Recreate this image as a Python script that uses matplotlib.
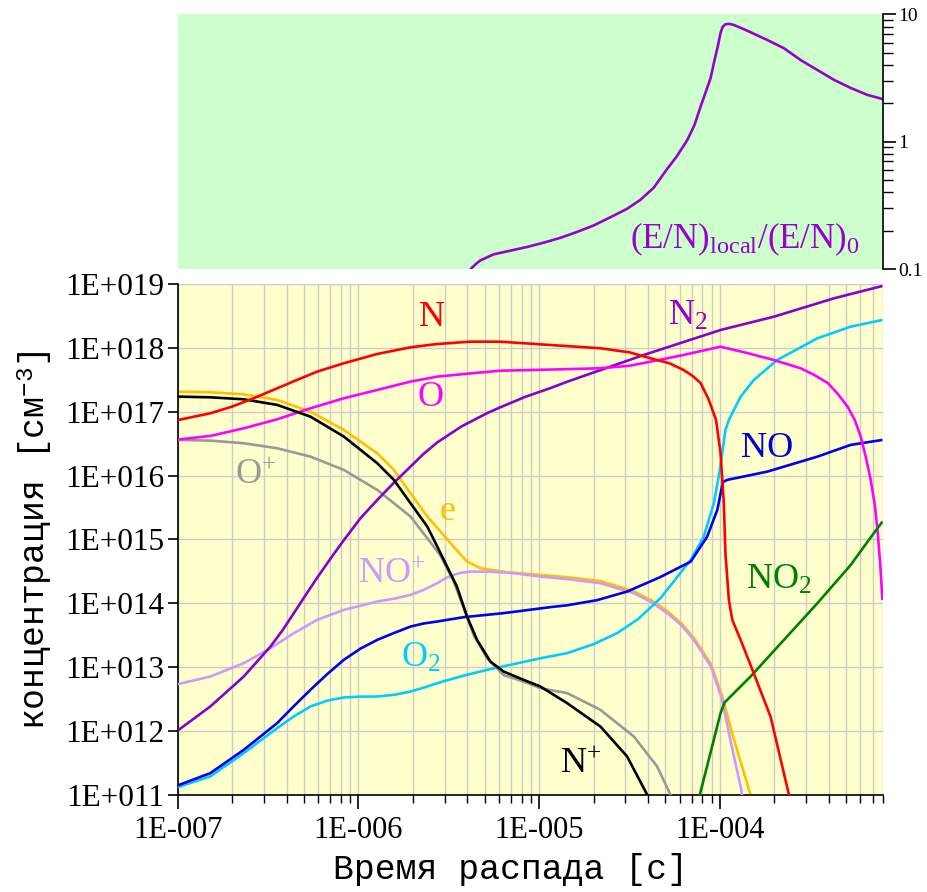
import numpy as np
import matplotlib
matplotlib.use('Agg')
import matplotlib.pyplot as plt
from matplotlib.ticker import FixedLocator, FuncFormatter, NullLocator, NullFormatter

plt.rcParams['font.family'] = ['Liberation Serif', 'DejaVu Serif']
plt.rcParams['mathtext.fontset'] = 'custom'
plt.rcParams['mathtext.rm'] = 'Liberation Serif'
plt.rcParams['mathtext.it'] = 'Liberation Serif:italic'
plt.rcParams['mathtext.tt'] = 'Liberation Mono'
plt.rcParams['mathtext.default'] = 'rm'

# ---------------- data (log10 of time [s] and log10 of concentration [cm^-3]) ----------------
N_lt = [-7.0, -6.820, -6.700, -6.580, -6.450, -6.340, -6.229, -6.081, -5.896, -5.712, -5.564, -5.381,
        -5.215, -4.938, -4.661, -4.50, -4.384, -4.28, -4.201, -4.15, -4.107, -4.063, -4.021, -3.996,
        -3.978, -3.969, -3.950, -3.931, -3.885, -3.813, -3.719, -3.620, -3.61]
N_lc = [16.87, 16.976, 17.080, 17.211, 17.367, 17.498, 17.628, 17.759, 17.905, 18.009, 18.061, 18.097,
        18.097, 18.045, 17.994, 17.93, 17.837, 17.76, 17.654, 17.56, 17.451, 17.2, 16.872, 16.35,
        15.568, 14.786, 14.055, 13.742, 13.429, 12.912, 12.224, 11.035, 10.9]

O_lt = [-7.0, -6.820, -6.635, -6.450, -6.266, -6.081, -5.896, -5.712, -5.564, -5.381, -5.215, -4.938,
        -4.661, -4.50, -4.384, -4.201, -3.996, -3.85, -3.702, -3.553, -3.480, -3.403, -3.347, -3.293,
        -3.253, -3.220, -3.192, -3.165, -3.142, -3.126, -3.112, -3.100]
O_lc = [16.565, 16.621, 16.741, 16.882, 17.054, 17.211, 17.341, 17.472, 17.550, 17.60, 17.643, 17.66,
        17.681, 17.72, 17.784, 17.889, 18.019, 17.92, 17.811, 17.681, 17.58, 17.451, 17.28, 17.080,
        16.87, 16.610, 16.29, 15.933, 15.54, 15.103, 14.6, 14.055]

N2_lt = [-7.0, -6.820, -6.635, -6.487, -6.42, -6.358, -6.29, -6.229, -6.15, -6.081, -5.99, -5.896,
         -5.80, -5.712, -5.64, -5.564, -5.43, -5.289, -5.215, -5.08, -4.938, -4.845, -4.421, -3.996,
         -3.701, -3.368, -3.100]
N2_lc = [12.01, 12.386, 12.855, 13.325, 13.58, 13.846, 14.14, 14.40, 14.72, 14.99, 15.33, 15.62,
         15.90, 16.141, 16.34, 16.52, 16.77, 16.977, 17.07, 17.23, 17.37, 17.47, 17.889, 18.28,
         18.488, 18.776, 18.969]

e_lt = [-7.0, -6.820, -6.635, -6.450, -6.266, -6.081, -5.896, -5.804, -5.712, -5.619, -5.56, -5.474,
        -5.399, -5.326, -5.178, -4.993, -4.845, -4.661, -4.476, -4.38, -4.291, -4.21, -4.144, -4.049,
        -3.987, -3.93, -3.83, -3.82]
e_lc = [17.315, 17.305, 17.273, 17.185, 17.002, 16.715, 16.350, 16.089, 15.724, 15.359, 15.17, 14.889,
        14.655, 14.551, 14.488, 14.446, 14.41, 14.35, 14.19, 14.05, 13.88, 13.68, 13.46, 13.05,
        12.55, 11.95, 11.0, 10.9]

Np_lt = [-7.0, -6.820, -6.635, -6.450, -6.266, -6.081, -5.896, -5.804, -5.712, -5.619, -5.564, -5.455,
         -5.399, -5.344, -5.270, -5.197, -5.086, -4.993, -4.845, -4.661, -4.513, -4.402, -4.38]
Np_lc = [17.237, 17.226, 17.195, 17.107, 16.924, 16.611, 16.194, 15.933, 15.568, 15.202, 14.889, 14.263,
         13.793, 13.429, 13.089, 12.933, 12.803, 12.698, 12.438, 12.072, 11.603, 11.003, 10.9]

Op_lt = [-7.0, -6.820, -6.635, -6.450, -6.266, -6.081, -5.896, -5.712, -5.619, -5.547, -5.474, -5.418,
         -5.363, -5.289, -5.197, -5.086, -4.993, -4.845, -4.661, -4.476, -4.347, -4.273, -4.26]
Op_lc = [16.559, 16.548, 16.507, 16.428, 16.298, 16.089, 15.776, 15.359, 15.02, 14.75, 14.35, 13.930,
         13.507, 13.142, 12.878, 12.775, 12.672, 12.595, 12.333, 11.916, 11.446, 11.003, 10.9]

NOp_lt = [-7.0, -6.820, -6.635, -6.487, -6.358, -6.229, -6.081, -5.896, -5.80, -5.712, -5.64, -5.564,
          -5.52, -5.474, -5.43, -5.381, -5.26, -5.141, -4.993, -4.845, -4.661, -4.476, -4.38, -4.291,
          -4.21, -4.144, -4.049, -3.987, -3.942, -3.881, -3.875]
NOp_lc = [12.735, 12.855, 13.064, 13.298, 13.533, 13.742, 13.898, 14.029, 14.075, 14.133, 14.21, 14.316,
          14.39, 14.446, 14.48, 14.498, 14.495, 14.473, 14.419, 14.38, 14.316, 14.160, 14.02, 13.847,
          13.65, 13.429, 13.011, 12.49, 11.864, 11.081, 10.95]

O2_lt = [-7.0, -6.820, -6.635, -6.450, -6.358, -6.266, -6.17, -6.081, -5.99, -5.896, -5.80, -5.712,
         -5.64, -5.564, -5.43, -5.289, -5.14, -4.993, -4.845, -4.70, -4.568, -4.45, -4.327, -4.161,
         -4.089, -4.033, -4.000, -3.969, -3.950, -3.885, -3.812, -3.682, -3.460, -3.276, -3.100]
O2_lc = [11.123, 11.290, 11.655, 12.047, 12.23, 12.386, 12.48, 12.527, 12.54, 12.542, 12.57, 12.620,
         12.68, 12.751, 12.86, 12.959, 13.05, 13.14, 13.221, 13.36, 13.534, 13.76, 14.086, 14.681,
         15.045, 15.568, 16.089, 16.715, 16.872, 17.236, 17.498, 17.811, 18.150, 18.332, 18.437]

NO_lt = [-7.0, -6.820, -6.635, -6.450, -6.358, -6.266, -6.17, -6.081, -5.99, -5.896, -5.80, -5.712,
         -5.64, -5.564, -5.418, -5.197, -4.938, -4.845, -4.68, -4.513, -4.327, -4.161, -4.070, -4.014,
         -3.983, -3.959, -3.737, -3.460, -3.276, -3.100]
NO_lc = [11.15, 11.342, 11.707, 12.125, 12.39, 12.646, 12.9, 13.116, 13.29, 13.429, 13.54, 13.637,
         13.685, 13.716, 13.784, 13.847, 13.941, 13.97, 14.05, 14.185, 14.415, 14.654, 15.045, 15.463,
         15.901, 15.933, 16.063, 16.297, 16.481, 16.559]

NO2_lt = [-4.115, -4.111, -4.052, -3.996, -3.974, -3.830, -3.645, -3.460, -3.276, -3.175, -3.100]
NO2_lc = [10.9, 11.003, 11.656, 12.282, 12.448, 12.855, 13.429, 14.003, 14.60, 14.994, 15.28]

# reduced field (E/N)local/(E/N)0, log10
EN_lt = [-5.40, -5.372, -5.348, -5.326, -5.252, -5.160, -5.067, -4.977, -4.882, -4.794, -4.698, -4.589,
         -4.513, -4.439, -4.366, -4.291, -4.240, -4.181, -4.140, -4.107, -4.074, -4.051, -4.029, -4.012,
         -3.996, -3.985, -3.969, -3.947, -3.922, -3.857, -3.737, -3.647, -3.553, -3.368, -3.276, -3.183,
         -3.095]
EN_lv = [-1.04, -0.990, -0.958, -0.933, -0.885, -0.856, -0.827, -0.794, -0.755, -0.711, -0.658, -0.582,
         -0.527, -0.456, -0.362, -0.213, -0.119, 0.010, 0.132, 0.273, 0.406, 0.500, 0.642, 0.744,
         0.853, 0.900, 0.922, 0.925, 0.916, 0.877, 0.798, 0.735, 0.641, 0.485, 0.422, 0.367,
         0.333]

x_ticks = [1e-7, 1e-6, 1e-5, 1e-4]
y_ticks = [1e11, 1e12, 1e13, 1e14, 1e15, 1e16, 1e17, 1e18, 1e19]
top_ticks = [0.1, 1, 10]
top_tick_labels = ['0.1', '1', '10']

# (name, times, concs, colour, zorder)
series = [
    ('NO+', NOp_lt, NOp_lc, '#CC99FF', 3),
    ('e', e_lt, e_lc, '#FFC000', 2),
    ('O+', Op_lt, Op_lc, '#999999', 4),
    ('N+', Np_lt, Np_lc, '#000000', 5),
    ('O2', O2_lt, O2_lc, '#00CCFF', 3),
    ('NO', NO_lt, NO_lc, '#0000EE', 4),
    ('N2', N2_lt, N2_lc, '#8800CC', 4),
    ('O', O_lt, O_lc, '#FF00FF', 4),
    ('N', N_lt, N_lc, '#FF0000', 5),
    ('NO2', NO2_lt, NO2_lc, '#008000', 4),
]

# labels: text, colour, position (log t, log n)
labels = [
    ('N', '#FF0000', -5.591, 18.468),
    ('O', '#FF00FF', -5.602, 17.216),
    ('O$^{+}$', '#999999', -6.567, 15.995),
    ('e', '#FFC000', -5.508, 15.432),
    ('N$_{2}$', '#9900CC', -4.175, 18.50),
    ('NO', '#0000CC', -3.740, 16.418),
    ('NO$^{+}$', '#CC99FF', -5.818, 14.446),
    ('O$_{2}$', '#00CCFF', -5.653, 13.147),
    ('NO$_{2}$', '#008000', -3.674, 14.368),
    ('N$^{+}$', '#000000', -4.772, 11.47),
]

W, H = 928, 892
fig = plt.figure(figsize=(W / 100, H / 100), dpi=100)

x0, x1 = 177.8, 883.0
ax = fig.add_axes([x0 / W, 1 - 795 / H, (x1 - x0) / W, (795 - 284) / H])
axt = fig.add_axes([x0 / W, 1 - 269 / H, (x1 - x0) / W, (269 - 14.3) / H])

xlim = (1e-7, 8e-4)

# ---------------- bottom panel ----------------
ax.set_facecolor('#FFFFCC')
ax.set_xscale('log')
ax.set_yscale('log')
ax.set_xlim(*xlim)
ax.set_ylim(1e11, 1e19)

for name, lt, lc, col, z in series:
    ax.plot(10 ** np.array(lt), 10 ** np.array(lc), color=col, lw=1.9, zorder=z,
            solid_capstyle='butt', solid_joinstyle='round')

for txt, col, lt, lc in labels:
    ax.text(10 ** lt, 10 ** lc, txt, color=col, fontsize=26, ha='center', va='center',
            family='Liberation Serif', zorder=6)

ax.xaxis.set_major_locator(FixedLocator(x_ticks))
minor = [m * 10.0 ** d for d in range(-7, -3) for m in range(2, 10)]
ax.xaxis.set_minor_locator(FixedLocator(minor))
ax.xaxis.set_minor_formatter(NullFormatter())
ax.xaxis.set_major_formatter(FuncFormatter(lambda v, p: '1E-%03d' % int(round(-np.log10(v)))))
ax.yaxis.set_major_locator(FixedLocator(y_ticks))
ax.yaxis.set_minor_locator(NullLocator())
ax.yaxis.set_major_formatter(FuncFormatter(lambda v, p: '1E+%03d' % int(round(np.log10(v)))))

ax.grid(True, which='major', axis='both', color='#CCCCCC', lw=1.0, zorder=0)
ax.grid(True, which='minor', axis='x', color='#CCCCCC', lw=1.0, zorder=0)
ax.set_axisbelow(True)

for s in ['top', 'right']:
    ax.spines[s].set_visible(False)
for s in ['left', 'bottom']:
    ax.spines[s].set_linewidth(1.2)
ax.tick_params(axis='x', which='major', length=10, width=1.2, direction='out', labelsize=22, pad=5)
ax.tick_params(axis='x', which='minor', length=5.5, width=1.0, direction='out')
ax.tick_params(axis='y', which='major', length=7.5, width=1.2, direction='out', labelsize=22.5, pad=2)

# ---------------- top panel ----------------
axt.set_facecolor('#CCFFCC')
axt.set_xscale('log')
axt.set_yscale('log')
axt.set_xlim(*xlim)
axt.set_ylim(0.1, 10)
axt.plot(10 ** np.array(EN_lt), 10 ** np.array(EN_lv), color='#9900CC', lw=1.9,
         solid_joinstyle='round')
axt.text(10 ** -3.859, 10 ** -0.77, r'(E/N)$_{\mathrm{local}}$/(E/N)$_{0}$', color='#9900CC',
         fontsize=25, ha='center', va='center', family='Liberation Serif')
for s in ['top', 'left', 'bottom']:
    axt.spines[s].set_visible(False)
axt.spines['right'].set_linewidth(1.2)
axt.set_xticks([])
axt.xaxis.set_minor_locator(NullLocator())
axt.yaxis.tick_right()
axt.yaxis.set_major_locator(FixedLocator(top_ticks))
axt.yaxis.set_major_formatter(FuncFormatter(lambda v, p: top_tick_labels[p] if p is not None and p < 3 else ''))
axt.yaxis.set_minor_locator(FixedLocator([m * 10.0 ** d for d in (-1, 0) for m in range(2, 10)]))
axt.yaxis.set_minor_formatter(NullFormatter())
axt.tick_params(axis='y', which='major', length=9, width=1.2, direction='out', labelsize=14, pad=2)
axt.tick_params(axis='y', which='minor', length=7, width=1.0, direction='out')

# ---------------- axis labels ----------------
fig.text(510 / W, 1 - 870 / H, 'Время распада [с]', family='Liberation Mono', fontsize=25,
         ha='center', va='center')
fig.text(35 / W, 1 - 540 / H, r'концентрация [см$^{\mathtt{-3}}$]', family='Liberation Mono',
         fontsize=25, ha='center', va='center', rotation=90)

fig.savefig('out.png', dpi=100)
